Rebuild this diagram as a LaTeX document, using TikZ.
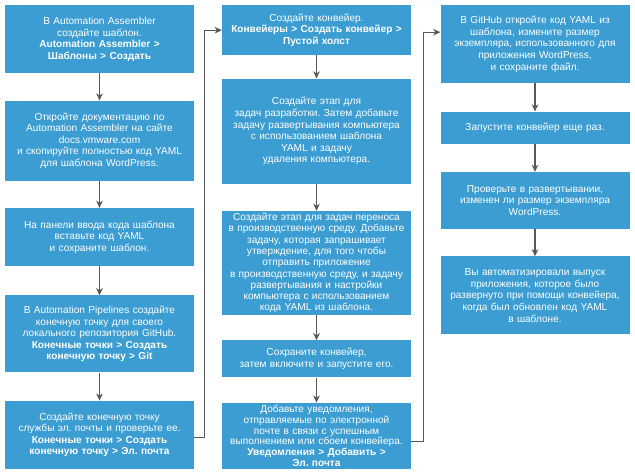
\documentclass[tikz,border=0pt]{standalone}
\usepackage{fontspec}
\setmainfont{Liberation Sans}
\usetikzlibrary{arrows.meta,positioning}
\definecolor{boxblue}{RGB}{59,157,209}
\definecolor{linegray}{RGB}{88,88,88}
\frenchspacing

\begin{document}
\begin{tikzpicture}[x=1pt, y=1pt, >={Stealth[length=7pt, width=6.5pt, inset=2pt]},
  stepbox/.style={fill=boxblue, text=white, minimum width=189pt, text width=187pt, align=center, inner sep=0pt,
    font=\fontsize{10.1}{11.6}\selectfont},
  link/.style={->, draw=linegray, line width=1.3pt}]
\useasboundingbox (0,0) rectangle (635,-472);
% first column
\node[stepbox, anchor=north, minimum height=68pt] (a1) at (99.5,-5) {В Automation Assembler\\ создайте шаблон.\\ \textbf{Automation Assembler >}\\ \textbf{Шаблоны > Создать}};
\node[stepbox, below=27pt of a1, minimum height=80pt] (a2) {Откройте документацию по\\ Automation Assembler на сайте\\ docs.vmware.com\\ и скопируйте полностью код YAML\\ для шаблона WordPress.};
\node[stepbox, below=27pt of a2, minimum height=58pt] (a3) {На панели ввода кода шаблона\\ вставьте код YAML\\ и сохраните шаблон.};
\node[stepbox, below=29pt of a3, minimum height=77pt] (a4) {В Automation Pipelines создайте\\ конечную точку для своего\\ локального репозитория GitHub.\\ \textbf{Конечные точки > Создать}\\ \textbf{конечную точку > Git}};
\node[stepbox, below=28pt of a4, minimum height=68pt] (a5) {Создайте конечную точку\\ службы эл. почты и проверьте ее.\\ \textbf{Конечные точки > Создать}\\ \textbf{конечную точку > Эл. почта}};
% second column
\node[stepbox, anchor=north, minimum height=50pt] (b1) at (316.5,-5) {Создайте конвейер.\\ \textbf{Конвейеры > Создать конвейер >}\\ \textbf{Пустой холст}};
\node[stepbox, below=23pt of b1, minimum height=105pt] (b2) {Создайте этап для\\ задач разработки. Затем добавьте\\ задачу развертывания компьютера\\ с использованием шаблона\\ YAML и задачу\\ удаления компьютера.};
\node[stepbox, below=27pt of b2, minimum height=104pt, font=\fontsize{10.1}{11.3}\selectfont] (b3) {Создайте этап для задач переноса\\ в производственную среду. Добавьте\\ задачу, которая запрашивает\\ утверждение, для того чтобы\\ отправить приложение\\ в производственную среду, и задачу\\ развертывания и настройки\\ компьютера с использованием\\ кода YAML из шаблона.};
\node[stepbox, below=25pt of b3, minimum height=37pt] (b4) {Сохраните конвейер,\\ затем включите и запустите его.};
\node[stepbox, below=25pt of b4, minimum height=66pt, font=\fontsize{10.1}{10.8}\selectfont] (b5) {Добавьте уведомления,\\ отправляемые по электронной\\ почте в связи с успешным\\ выполнением или сбоем конвейера.\\ \textbf{Уведомления > Добавить >}\\ \textbf{Эл. почта}};
% third column
\node[stepbox, anchor=north, minimum height=78pt] (c1) at (535,-5) {В GitHub откройте код YAML из\\ шаблона, измените размер\\ экземпляра, использованного для\\ приложения WordPress,\\ и сохраните файл.};
\node[stepbox, below=28pt of c1, minimum height=32pt] (c2) {Запустите конвейер еще раз.};
\node[stepbox, below=28pt of c2, minimum height=57pt] (c3) {Проверьте в развертывании,\\ изменен ли размер экземпляра\\ WordPress.};
\node[stepbox, below=27pt of c3, minimum height=78pt] (c4) {Вы автоматизировали выпуск\\ приложения, которое было\\ развернуто при помощи конвейера,\\ когда был обновлен код YAML\\ в шаблоне.};
\draw[link] (a1)--(a2); \draw[link] (a2)--(a3); \draw[link] (a3)--(a4); \draw[link] (a4)--(a5);
\draw[link] ([yshift=-3pt]a5.east) -- ++(10pt,0) |- (b1.west);
\draw[link] (b1)--(b2); \draw[link] (b2)--(b3); \draw[link] (b3)--(b4); \draw[link] (b4)--(b5);
\draw[link] ([yshift=-6pt]b5.east) -- ++(12pt,0) |- ([yshift=12pt]c1.west);
\draw[link] (c1)--(c2); \draw[link] (c2)--(c3); \draw[link] (c3)--(c4);
\end{tikzpicture}
\end{document}
